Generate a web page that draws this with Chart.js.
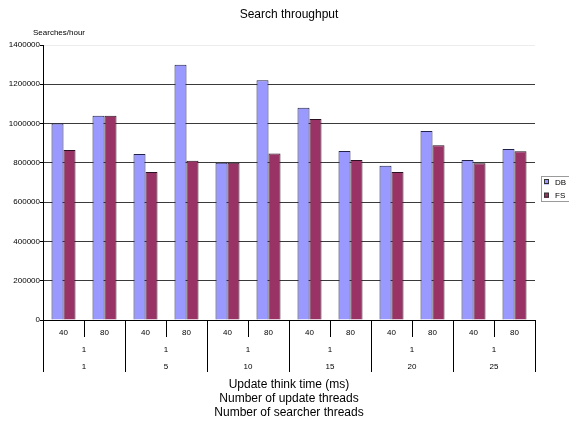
<!DOCTYPE html>
<html>
<head>
<meta charset="utf-8">
<script src="https://cdn.jsdelivr.net/npm/chart.js@4/dist/chart.umd.min.js"></script>
<style>
  html, body { margin: 0; padding: 0; background: #fff; }
  #wrap { width: 569px; height: 421px; position: relative; }
</style>
</head>
<body>
<div id="wrap"><canvas id="chart" width="569" height="421"></canvas></div>
<script>
// Categories: one bar pair per think time, grouped by thread counts
const thinkTimes = ['40', '80', '40', '80', '40', '80', '40', '80', '40', '80', '40', '80'];
const updateThreads = ['1', '1', '1', '1', '1', '1'];
const searcherThreads = ['1', '5', '10', '15', '20', '25'];

// Searches per hour for each configuration
const dbValues = [1000000, 1040000, 845000, 1300000, 800000, 1220000, 1080000, 860000, 785000, 962000, 815000, 870000];
const fsValues = [865000, 1040000, 753000, 811000, 800000, 848000, 1023000, 815000, 753000, 890000, 798000, 859000];

const yTicks = [0, 200000, 400000, 600000, 800000, 1000000, 1200000, 1400000];

const FONT = "'Liberation Sans', Arial, sans-serif";

// Title, y unit label and boxed legend
const decorations = {
  id: 'decorations',
  afterDraw(chart) {
    const ctx = chart.ctx;
    ctx.save();
    ctx.fillStyle = '#000';
    ctx.textBaseline = 'middle';
    ctx.textAlign = 'center';
    ctx.font = '12px ' + FONT;
    ctx.fillText('Search throughput', (chart.chartArea.left + chart.chartArea.right) / 2, 15);

    ctx.textAlign = 'left';
    ctx.font = '8px ' + FONT;
    ctx.fillText('Searches/hour', 33, 33);

    // legend box
    ctx.strokeStyle = '#9a9a9a';
    ctx.lineWidth = 1;
    ctx.strokeRect(541.5, 176.5, 32, 25);
    const rows = [182, 195.5];
    chart.data.datasets.forEach((ds, i) => {
      const y = rows[i];
      ctx.fillStyle = ds.backgroundColor;
      ctx.fillRect(544, y - 2.5, 5, 5);
      ctx.strokeStyle = '#333';
      ctx.strokeRect(544.5, y - 2.5, 4, 4);
      ctx.fillStyle = '#000';
      ctx.font = '8px ' + FONT;
      ctx.fillText(ds.label, 555, y + 0.5);
    });
    ctx.restore();
  }
};

new Chart(document.getElementById('chart'), {
  type: 'bar',
  data: {
    labels: thinkTimes,
    datasets: [
      { label: 'DB', data: dbValues, backgroundColor: '#9999FF', borderColor: '#22224a', borderWidth: 1, xAxisID: 'x' },
      { label: 'FS', data: fsValues, backgroundColor: '#993366', borderColor: '#2a1020', borderWidth: 1, xAxisID: 'x' }
    ]
  },
  options: {
    responsive: false,
    animation: false,
    devicePixelRatio: 1,
    layout: { padding: { left: 0, right: 34, top: 45, bottom: 0 } },
    datasets: { bar: { categoryPercentage: 0.585, barPercentage: 1 } },
    plugins: {
      legend: { display: false },
      title: { display: false },
      tooltip: { enabled: false }
    },
    scales: {
      y: {
        min: 0, max: 1400000,
        afterBuildTicks(scale) { scale.ticks = yTicks.map(v => ({ value: v })); },
        afterFit(scale) { scale.width = 43; },
        border: { display: true, color: '#000', width: 1 },
        grid: {
          color: ctx => ctx.tick && ctx.tick.value === 1400000 ? '#ececec' : '#3a3a3a',
          tickColor: '#000',
          tickLength: 3,
          lineWidth: 1
        },
        ticks: {
          padding: 0,
          color: '#000',
          font: { family: FONT, size: 8 },
          callback: v => String(v)
        }
      },
      x: {
        type: 'category',
        position: 'bottom',
        weight: 0,
        offset: true,
        afterFit(scale) { scale.height = 17; },
        border: { display: true, color: '#000', width: 1 },
        grid: { offset: true, drawOnChartArea: false, tickLength: 17, color: '#000', tickColor: '#000' },
        ticks: { padding: -8.8, color: '#000', font: { family: FONT, size: 8 }, maxRotation: 0, autoSkip: false }
      },
      x2: {
        type: 'category',
        position: 'bottom',
        weight: 1,
        offset: true,
        labels: updateThreads,
        afterFit(scale) { scale.height = 18; },
        border: { display: false },
        grid: { offset: true, drawOnChartArea: false, tickLength: 18, color: '#000', tickColor: '#000' },
        ticks: { padding: -9.8, color: '#000', font: { family: FONT, size: 8 }, maxRotation: 0, autoSkip: false }
      },
      x3: {
        type: 'category',
        position: 'bottom',
        weight: 2,
        offset: true,
        labels: searcherThreads,
        afterFit(scale) { scale.height = 66; },
        border: { display: false },
        grid: { offset: true, drawOnChartArea: false, tickLength: 17, color: '#000', tickColor: '#000' },
        ticks: { padding: -10.1, color: '#000', font: { family: FONT, size: 8 }, maxRotation: 0, autoSkip: false },
        title: {
          display: true,
          text: ['Update think time (ms)', 'Number of update threads', 'Number of searcher threads'],
          color: '#000',
          font: { family: FONT, size: 12, lineHeight: 14 / 12 },
          padding: { top: 0, bottom: 1 }
        }
      }
    }
  },
  plugins: [decorations]
});
</script>
</body>
</html>
